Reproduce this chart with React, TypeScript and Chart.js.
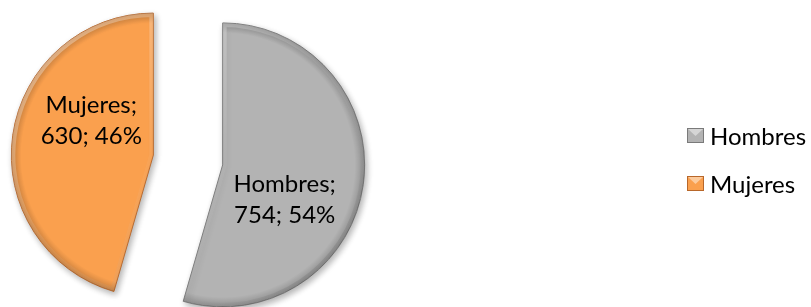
import React, { useEffect, useRef } from "react";
import { Chart, registerables } from "chart.js";

Chart.register(...registerables);

// ---- data ----
const categories: string[] = ["Hombres", "Mujeres"];
const values: number[] = [754, 630];

// ---- style ----
const fillColors = ["#B3B3B3", "#FAA04E"];
const edgeColors = ["#7A7A7A", "#B8672A"];
const FONT_FAMILY = "Lato, 'Open Sans', sans-serif";
const LABEL_SIZE = 24;
const LEGEND_SIZE = 24;
const EXPLODE = 35;
const LABEL_TURN = (21 * Math.PI) / 180;

const total = values.reduce((a, b) => a + b, 0);

const piePlugin = {
  id: "excelPie",
  afterDatasetUpdate(chart: any, args: any) {
    const meta = chart.getDatasetMeta(args.index);
    meta.data.forEach((arc: any) => {
      const mid = (arc.startAngle + arc.endAngle) / 2;
      arc.x += Math.cos(mid) * EXPLODE;
      arc.y += Math.sin(mid) * EXPLODE;
    });
  },
  beforeDatasetsDraw(chart: any) {
    const ctx = chart.ctx;
    ctx.save();
    ctx.shadowColor = "rgba(0,0,0,0.3)";
    ctx.shadowBlur = 6;
    ctx.shadowOffsetX = 2;
    ctx.shadowOffsetY = 3;
  },
  afterDatasetsDraw(chart: any) {
    const ctx = chart.ctx;
    ctx.restore();
    const meta = chart.getDatasetMeta(0);
    // bevel
    meta.data.forEach((arc: any) => {
      const { x, y, outerRadius: r, startAngle: s, endAngle: e } = arc;
      ctx.save();
      ctx.beginPath();
      ctx.moveTo(x, y);
      ctx.arc(x, y, r, s, e);
      ctx.closePath();
      ctx.clip();
      const g = ctx.createRadialGradient(x, y, r - 10, x, y, r);
      g.addColorStop(0, "rgba(0,0,0,0)");
      g.addColorStop(1, "rgba(0,0,0,0.2)");
      ctx.fillStyle = g;
      ctx.fill();
      const lg = ctx.createLinearGradient(x - r, y - r, x + r, y + r);
      lg.addColorStop(0, "rgba(255,255,255,0.45)");
      lg.addColorStop(0.5, "rgba(255,255,255,0.05)");
      lg.addColorStop(1, "rgba(0,0,0,0.22)");
      ctx.lineWidth = 8;
      ctx.strokeStyle = lg;
      ctx.stroke();
      ctx.restore();
    });
    // data labels
    ctx.save();
    ctx.fillStyle = "#000";
    ctx.font = `${LABEL_SIZE}px ${FONT_FAMILY}`;
    ctx.textAlign = "center";
    ctx.textBaseline = "middle";
    meta.data.forEach((arc: any, i: number) => {
      const mid = (arc.startAngle + arc.endAngle) / 2 + LABEL_TURN;
      const d = arc.outerRadius * 0.5;
      const cx = arc.x + Math.cos(mid) * d;
      const cy = arc.y + Math.sin(mid) * d;
      const pct = Math.round((values[i] / total) * 100);
      ctx.fillText(`${categories[i]};`, cx, cy - 15.5);
      ctx.fillText(`${values[i]}; ${pct}%`, cx, cy + 16);
    });
    ctx.restore();
    // legend
    ctx.save();
    ctx.font = `${LEGEND_SIZE}px ${FONT_FAMILY}`;
    ctx.textBaseline = "middle";
    ctx.textAlign = "left";
    const lx = 687;
    const ly0 = 136;
    const step = 48;
    categories.forEach((c, i) => {
      const yy = ly0 + i * step;
      ctx.fillStyle = fillColors[i];
      ctx.fillRect(lx, yy - 8, 17, 15);
      ctx.beginPath();
      ctx.moveTo(lx + 1, yy - 7);
      ctx.lineTo(lx + 16, yy - 7);
      ctx.lineTo(lx + 8.5, yy);
      ctx.closePath();
      ctx.fillStyle = "rgba(255,255,255,0.45)";
      ctx.fill();
      ctx.strokeStyle = edgeColors[i];
      ctx.lineWidth = 1;
      ctx.strokeRect(lx + 0.5, yy - 7.5, 16, 14);
      ctx.fillStyle = "#000";
      ctx.fillText(c, lx + 23, yy + 1);
    });
    ctx.restore();
  },
};

export default function App() {
  const ref = useRef<HTMLCanvasElement | null>(null);
  useEffect(() => {
    if (!ref.current) return;
    const chart = new Chart(ref.current, {
      type: "pie",
      data: {
        labels: categories,
        datasets: [
          {
            data: values,
            backgroundColor: fillColors,
            borderColor: edgeColors,
            borderWidth: 1,
          },
        ],
      },
      options: {
        animation: false,
        responsive: true,
        maintainAspectRatio: false,
        devicePixelRatio: 1,
        radius: 142,
        layout: { padding: { left: 0, right: 435, top: 13, bottom: 0 } },
        plugins: {
          legend: { display: false },
          tooltip: { enabled: false },
        },
        events: [],
      } as any,
      plugins: [piePlugin as any],
    });
    return () => chart.destroy();
  }, []);
  return (
    <div style={{ position: "absolute", left: 0, top: 0, width: 811, height: 307, background: "#fff" }}>
      <canvas ref={ref} />
    </div>
  );
}
